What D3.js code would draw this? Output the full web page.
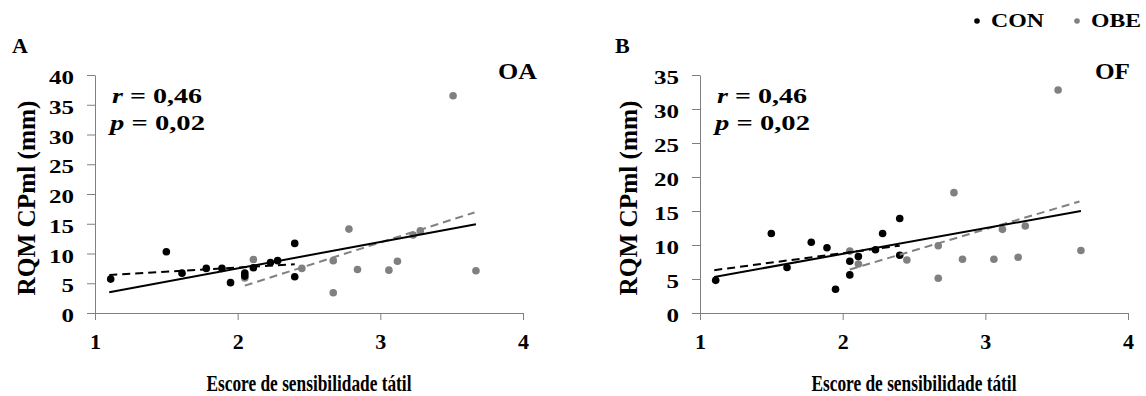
<!DOCTYPE html>
<html>
<head>
<meta charset="utf-8">
<script src="https://cdn.jsdelivr.net/npm/d3@7/dist/d3.min.js"></script>
<style>
body { margin: 0; background: #fff; }
</style>
</head>
<body>
<svg id="chart" width="1146" height="396"></svg>
<script>
// tactile sensitivity score (x) for each group
var conScore = [1.11, 1.50, 1.61, 1.78, 1.89, 1.95, 2.05, 2.05, 2.11, 2.23, 2.28, 2.40, 2.40];
var obeScore = [2.05, 2.11, 2.45, 2.67, 2.67, 2.78, 2.84, 3.06, 3.12, 3.23, 3.28, 3.51, 3.67];

// RQM CPml (mm), panel A (OA) and panel B (OF)
var conOA = [5.7, 10.3, 6.7, 7.5, 7.5, 5.1, 6.7, 6.2, 7.6, 8.5, 8.8, 11.7, 6.1];
var obeOA = [5.9, 9.0, 7.5, 8.8, 3.4, 14.1, 7.3, 7.2, 8.7, 13.1, 13.8, 36.5, 7.1];
var conOF = [4.8, 11.7, 6.7, 10.4, 9.6, 3.5, 7.6, 5.6, 8.3, 9.3, 11.7, 13.9, 8.5];
var obeOF = [9.1, 7.2, 7.8, 9.9, 5.1, 17.7, 7.9, 7.9, 12.3, 8.2, 12.8, 32.8, 9.2];

// trend lines (start / end)
var fitAllX = [1.1, 3.67], fitConX = [1.1, 2.4], fitObeX = [2.05, 3.66];
var fitAllOA = [3.5, 14.9], fitConOA = [6.4, 8.2], fitObeOA = [4.6, 16.9];
var fitAllOF = [5.3, 15.0], fitConOF = [6.3, 9.9], fitObeOF = [6.4, 16.4];

var xTicks = [1, 2, 3, 4];
var yTicksOA = [0, 5, 10, 15, 20, 25, 30, 35, 40];
var yTicksOF = [0, 5, 10, 15, 20, 25, 30, 35];

var grey = "#808080";
var serif = '"Liberation Serif", "Times New Roman", serif';
var svg = d3.select("#chart");

function zip(xs, ys) {
    return xs.map(function (x, i) { return { x: x, y: ys[i] }; });
}

function drawPanel(opt) {
    var x = d3.scaleLinear().domain([1, 4]).range([opt.left, opt.left + 428]);
    var y = d3.scaleLinear().domain([0, opt.yMax]).range([313, 75]);
    var g = svg.append("g");

    var yAxis = g.append("g")
        .attr("transform", "translate(" + opt.left + ",0)")
        .call(d3.axisLeft(y).tickValues(opt.yTicks).tickFormat(d3.format("d"))
            .tickSize(8).tickSizeOuter(0).tickPadding(13));
    yAxis.selectAll("text")
        .attr("dy", "0.45em")
        .style("font-size", "19px")
        .attr("textLength", function (d) { return String(d).length * 12.5; })
        .attr("lengthAdjust", "spacingAndGlyphs");

    var xAxis = g.append("g")
        .attr("transform", "translate(0,313)")
        .call(d3.axisBottom(x).tickValues(xTicks).tickFormat(d3.format("d"))
            .tickSize(7).tickSizeOuter(0));
    xAxis.selectAll("text")
        .attr("y", 36).attr("dy", 0)
        .style("font-size", "22px");

    g.selectAll(".domain, .tick line").attr("stroke", grey);

    // axis titles
    g.append("text")
        .attr("x", opt.left + 214).attr("y", 391)
        .attr("text-anchor", "middle")
        .style("font-size", "24px")
        .attr("textLength", 205).attr("lengthAdjust", "spacingAndGlyphs")
        .text("Escore de sensibilidade tátil");

    g.append("text")
        .attr("transform", "translate(" + opt.titleX + ",198) rotate(-90)")
        .attr("text-anchor", "middle")
        .style("font-size", "25px")
        .attr("textLength", 195).attr("lengthAdjust", "spacingAndGlyphs")
        .text("RQM CPml (mm)");

    // panel letter and measure
    g.append("text").attr("x", opt.letterX).attr("y", 53)
        .style("font-size", "22px").text(opt.letter);
    g.append("text").attr("x", opt.tagX).attr("y", 79)
        .style("font-size", "24px")
        .attr("textLength", opt.tagW).attr("lengthAdjust", "spacingAndGlyphs")
        .text(opt.tag);

    // stats
    var r = g.append("text").attr("x", opt.left + 17).attr("y", 103)
        .style("font-size", "22px")
        .attr("textLength", 90).attr("lengthAdjust", "spacingAndGlyphs");
    r.append("tspan").style("font-style", "italic").text("r");
    r.append("tspan").text(" = 0,46");
    var p = g.append("text").attr("x", opt.left + 15).attr("y", 130)
        .style("font-size", "22px")
        .attr("textLength", 95).attr("lengthAdjust", "spacingAndGlyphs");
    p.append("tspan").style("font-style", "italic").text("p");
    p.append("tspan").text(" = 0,02");

    // points
    g.selectAll(".obe").data(zip(obeScore, opt.obe)).enter()
        .append("circle").attr("class", "obe")
        .attr("cx", function (d) { return x(d.x); })
        .attr("cy", function (d) { return y(d.y); })
        .attr("r", 3.8).attr("fill", grey);
    g.selectAll(".con").data(zip(conScore, opt.con)).enter()
        .append("circle").attr("class", "con")
        .attr("cx", function (d) { return x(d.x); })
        .attr("cy", function (d) { return y(d.y); })
        .attr("r", 3.8).attr("fill", "#000");

    // trend lines
    var line = d3.line().x(function (d) { return x(d.x); }).y(function (d) { return y(d.y); });
    g.append("path").datum(zip(fitConX, opt.fitCon)).attr("d", line)
        .attr("fill", "none").attr("stroke", "#000").attr("stroke-width", 2)
        .attr("stroke-dasharray", "8,5");
    g.append("path").datum(zip(fitObeX, opt.fitObe)).attr("d", line)
        .attr("fill", "none").attr("stroke", grey).attr("stroke-width", 2)
        .attr("stroke-dasharray", "8,5");
    g.append("path").datum(zip(fitAllX, opt.fitAll)).attr("d", line)
        .attr("fill", "none").attr("stroke", "#000").attr("stroke-width", 2);
}

drawPanel({
    left: 95, yMax: 40, yTicks: yTicksOA, titleX: 35,
    letter: "A", letterX: 12, tag: "OA", tagX: 498, tagW: 39,
    con: conOA, obe: obeOA, fitAll: fitAllOA, fitCon: fitConOA, fitObe: fitObeOA
});
drawPanel({
    left: 700, yMax: 35, yTicks: yTicksOF, titleX: 637,
    letter: "B", letterX: 615, tag: "OF", tagX: 1095, tagW: 35,
    con: conOF, obe: obeOF, fitAll: fitAllOF, fitCon: fitConOF, fitObe: fitObeOF
});

// legend
var legend = [{ name: "CON", color: "#000", x: 977, w: 53 }, { name: "OBE", color: grey, x: 1077, w: 50 }];
var lg = svg.selectAll(".legend").data(legend).enter().append("g").attr("class", "legend");
lg.append("circle").attr("cx", function (d) { return d.x; }).attr("cy", 21).attr("r", 2.8)
    .attr("fill", function (d) { return d.color; });
lg.append("text").attr("x", function (d) { return d.x + 14; }).attr("y", 27)
    .style("font-size", "19px")
    .attr("textLength", function (d) { return d.w; }).attr("lengthAdjust", "spacingAndGlyphs")
    .text(function (d) { return d.name; });

svg.selectAll("text")
    .style("font-family", serif)
    .style("font-weight", "bold")
    .attr("fill", "#000");
</script>
</body>
</html>
